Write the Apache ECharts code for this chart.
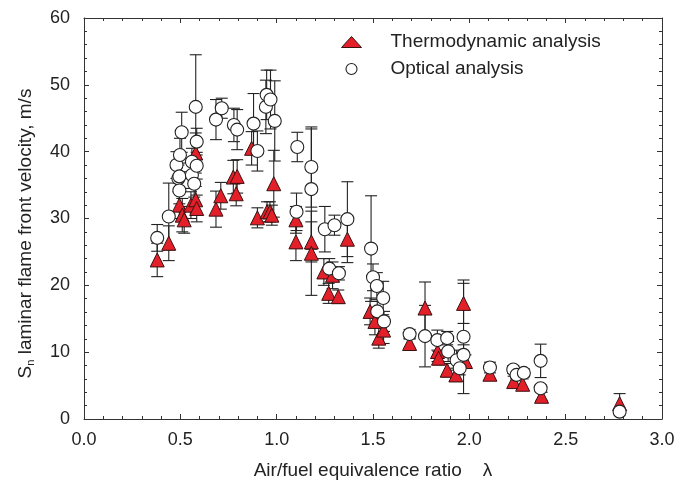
<!DOCTYPE html>
<html><head><meta charset="utf-8">
<script src="https://cdn.jsdelivr.net/npm/echarts@6/dist/echarts.min.js"></script>
<style>html,body{margin:0;padding:0;background:#fff}#c{width:678px;height:491px}</style>
</head><body><div id="c"></div>
<script>
// Thermodynamic analysis (triangles)
var thermoX = [0.38,0.44,0.495,0.51,0.52,0.555,0.58,0.585,0.58,0.685,0.71,0.775,0.795,0.79,0.87,0.90,0.95,0.965,0.975,0.985,1.10,1.10,1.18,1.18,1.245,1.29,1.27,1.32,1.367,1.485,1.51,1.53,1.555,1.69,1.77,1.835,1.84,1.885,1.93,1.97,1.98,2.107,2.23,2.277,2.375,2.78];
var thermoY = [23.8,26.3,32.0,30.5,29.8,32.0,32.8,31.5,39.8,31.4,33.4,36.2,36.3,33.7,40.5,30.1,31.0,31.0,30.5,35.2,29.8,26.5,26.5,24.8,22.0,21.5,18.8,18.3,26.9,16.1,14.6,12.1,13.3,11.3,16.6,10.1,9.1,7.3,6.6,17.3,8.6,6.7,5.6,5.2,3.4,2.3];
var thermoErr = [2.5,2.6,2.0,2.5,2.0,2.0,2.0,2.0,3.0,2.7,2.0,2.5,2.5,1.8,2.5,1.5,1.5,1.5,1.5,5.0,2.0,2.8,3.0,6.3,2.0,2.0,1.5,1.0,3.5,2.0,2.0,1.5,2.0,0.7,3.9,1.5,1.0,1.0,1.0,3.0,1.0,0.8,0.8,0.8,0.6,1.5];
// Optical analysis (circles)
var opticX = [0.38,0.44,0.48,0.49,0.495,0.498,0.507,0.495,0.56,0.56,0.572,0.585,0.585,0.58,0.685,0.715,0.778,0.795,0.88,0.90,0.944,0.948,0.968,0.99,1.107,1.103,1.18,1.18,1.25,1.30,1.367,1.273,1.323,1.49,1.50,1.52,1.553,1.522,1.557,1.69,1.77,1.834,1.885,1.89,1.934,1.95,1.97,1.97,2.107,2.228,2.245,2.283,2.37,2.37,2.78];
var opticY = [27.1,30.3,38.0,36.0,34.2,39.5,42.9,36.3,38.5,36.5,35.2,41.5,37.9,46.7,44.8,46.5,44.0,43.3,44.2,40.1,46.7,48.5,47.8,44.6,40.7,31.0,37.7,34.4,28.4,29.0,29.9,22.5,21.8,25.5,21.2,19.9,18.1,16.1,14.6,12.7,12.4,11.8,12.1,10.1,8.8,7.6,12.3,9.6,7.7,7.4,6.6,6.9,8.7,4.6,1.1];
var opticErr = [2.0,5.0,2.0,2.0,2.0,2.5,3.0,2.0,2.0,2.0,2.0,2.0,2.0,7.8,3.0,1.5,2.5,3.0,4.5,3.0,4.0,3.7,4.4,6.0,2.2,2.8,6.0,9.0,3.4,1.5,5.6,1.5,1.0,7.9,2.0,2.0,2.5,1.5,1.5,0.7,4.6,1.5,1.0,1.5,1.5,1.0,8.5,1.5,0.8,0.6,0.6,0.6,2.5,0.5,0.5];
var xTicks = ['0.0','0.5','1.0','1.5','2.0','2.5','3.0'];

function pts(xs, ys){ return xs.map(function(x,i){ return [x, ys[i]]; }); }
function errs(xs, ys, es){ return xs.map(function(x,i){ return [x, ys[i]-es[i], ys[i]+es[i]]; }); }

function errRender(params, api){
  var lo = api.coord([api.value(0), api.value(1)]);
  var hi = api.coord([api.value(0), api.value(2)]);
  var hw = 6;
  var st = {stroke:'#222', lineWidth:1.1};
  return {type:'group', children:[
    {type:'line', shape:{x1:lo[0],y1:lo[1],x2:hi[0],y2:hi[1]}, style:st},
    {type:'line', shape:{x1:lo[0]-hw,y1:lo[1],x2:lo[0]+hw,y2:lo[1]}, style:st},
    {type:'line', shape:{x1:hi[0]-hw,y1:hi[1],x2:hi[0]+hw,y2:hi[1]}, style:st}
  ]};
}

var font = 'Liberation Sans, Arial, sans-serif';
var txt = '#222';
var axCol = '#333';
var chart = echarts.init(document.getElementById('c'), null, {renderer:'canvas'});
var baseX = {
  type:'value', min:0, max:3, interval:0.5,
  axisLine:{show:true, onZero:false, lineStyle:{color:axCol, width:1}},
  axisTick:{show:true, inside:true, length:5, lineStyle:{color:axCol}},
  minorTick:{show:true, splitNumber:5, length:3, lineStyle:{color:axCol}},
  splitLine:{show:false}
};
var baseY = {
  type:'value', min:0, max:60, interval:10,
  axisLine:{show:true, onZero:false, lineStyle:{color:axCol, width:1}},
  axisTick:{show:true, inside:true, length:5, lineStyle:{color:axCol}},
  minorTick:{show:true, splitNumber:5, length:3, lineStyle:{color:axCol}},
  splitLine:{show:false}
};
chart.setOption({
  animation:false,
  backgroundColor:'#fff',
  grid:{left:84, right:16, top:18, bottom:72},
  legend:{
    show:true, orient:'vertical', left:341, top:32, itemGap:7, itemWidth:20, itemHeight:11, padding:0,
    textStyle:{fontFamily:font, fontSize:19, lineHeight:20, color:txt, padding:[0,0,0,24]},
    data:[
      {name:'Thermodynamic analysis', icon:'triangle', itemStyle:{color:'#e3202a', borderColor:'#3a1010', borderWidth:1}},
      {name:'Optical analysis', icon:'circle', itemStyle:{color:'#fff', borderColor:'#222', borderWidth:1.1}}
    ]
  },
  xAxis:[
    Object.assign({}, baseX, {position:'bottom',
      name:'Air/fuel equivalence ratio    λ', nameLocation:'middle', nameGap:42,
      nameTextStyle:{fontFamily:font, fontSize:19, color:txt},
      axisLabel:{show:true, margin:12, fontFamily:font, fontSize:18, color:txt,
        formatter:function(v){ var i=Math.round(v/0.5); return xTicks[i]; }}}),
    Object.assign({}, baseX, {position:'top', axisLabel:{show:false}})
  ],
  yAxis:[
    Object.assign({}, baseY, {position:'left',
      name:'{m|S}{s|n}{m| laminar flame front velocity, m/s}', nameLocation:'middle', nameGap:48, nameRotate:90,
      nameTextStyle:{fontFamily:font, fontSize:19, color:txt, padding:[0,30,0,0],
        rich:{m:{fontFamily:font, fontSize:19, color:txt}, s:{fontFamily:font, fontSize:11, color:txt, verticalAlign:'bottom', padding:[9,0,0,0]}}},
      axisLabel:{show:true, margin:14, fontFamily:font, fontSize:18, color:txt}}),
    Object.assign({}, baseY, {position:'right', axisLabel:{show:false}})
  ],
  series:[
    {type:'custom', name:'thermoErr', renderItem:errRender, data:errs(thermoX,thermoY,thermoErr), encode:{x:0,y:[1,2]}, z:1, silent:true},
    {type:'custom', name:'opticErr', renderItem:errRender, data:errs(opticX,opticY,opticErr), encode:{x:0,y:[1,2]}, z:1, silent:true},
    {type:'scatter', name:'Thermodynamic analysis', data:pts(thermoX,thermoY), symbol:'triangle', symbolSize:14,
      itemStyle:{color:'#e3202a', borderColor:'#3a1010', borderWidth:1, opacity:1}, z:3},
    {type:'scatter', name:'Optical analysis', data:pts(opticX,opticY), symbol:'circle', symbolSize:13,
      itemStyle:{color:'#fff', borderColor:'#222', borderWidth:1.1, opacity:1}, z:4}
  ]
});
</script></body></html>
